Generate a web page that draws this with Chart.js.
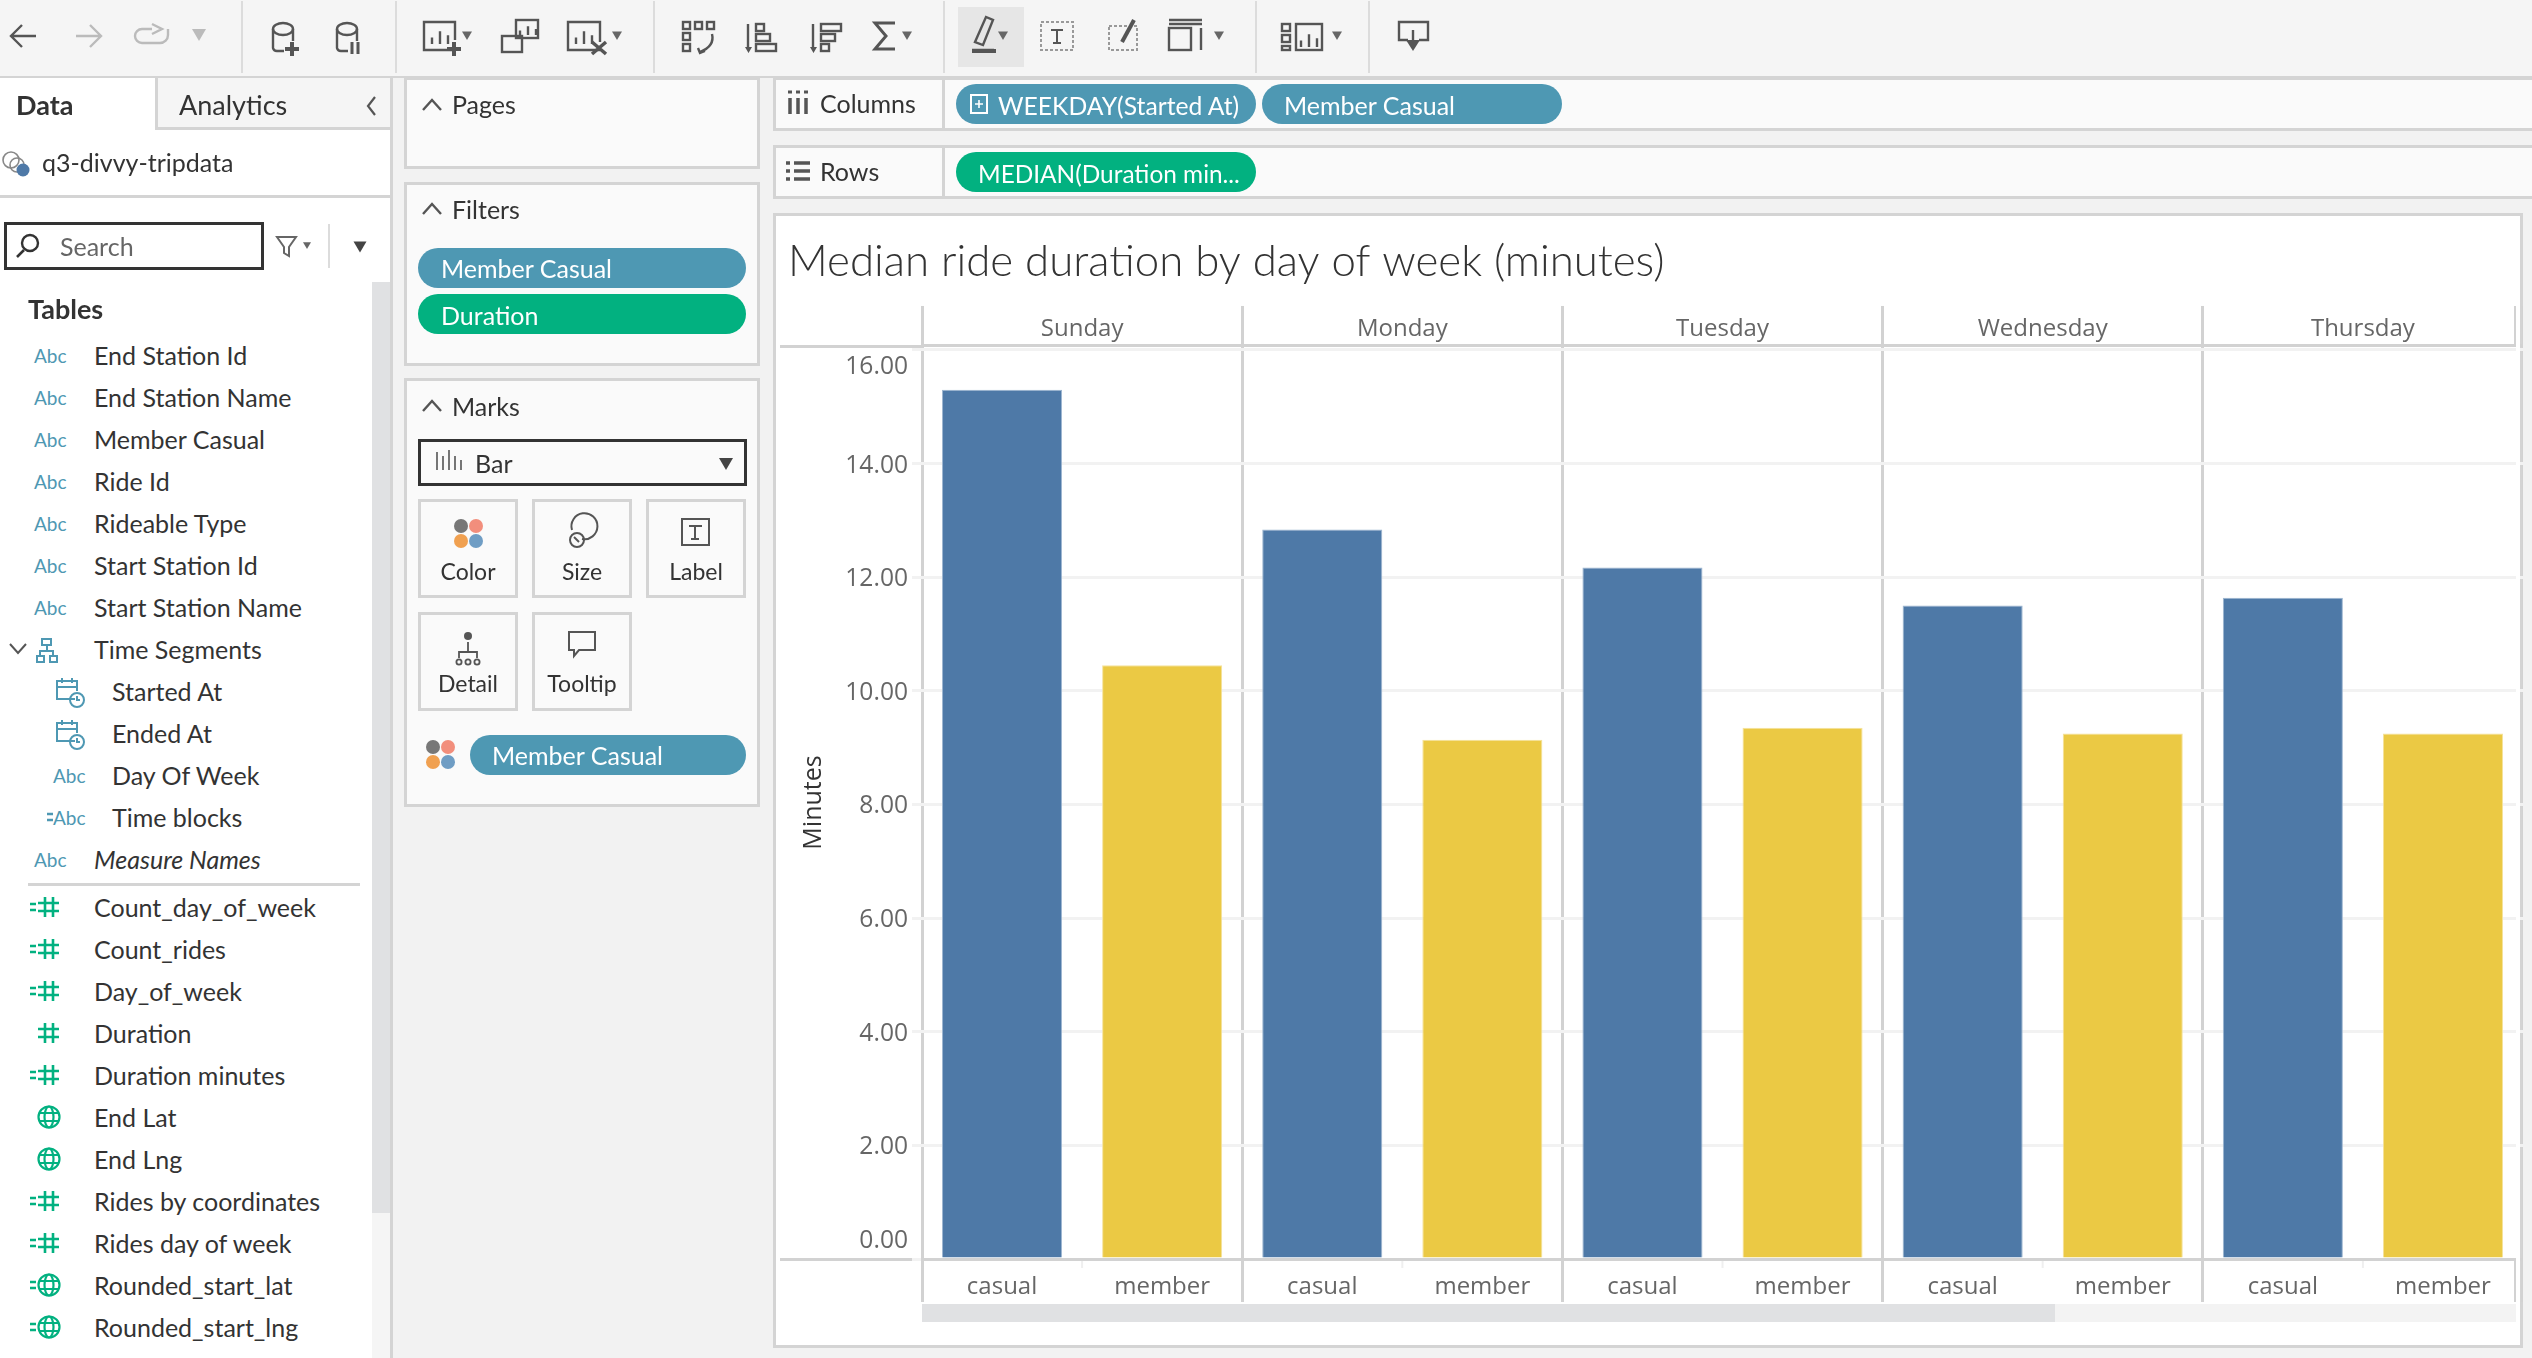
<!DOCTYPE html>
<html>
<head>
<meta charset="utf-8">
<title>Median ride duration by day of week</title>
<script src="https://cdn.jsdelivr.net/npm/chart.js@4"></script>
<style>
html, body { margin: 0; padding: 0; background: #f2f2f2; overflow: hidden; }
#page { position: relative; width: 2532px; height: 1358px; overflow: hidden; font-family: Lato, "Open Sans", sans-serif; color: #333; }
.box { position: absolute; box-sizing: border-box; }
.txt { position: absolute; transform: translateY(-50%); white-space: nowrap; font-size: 25px; }
.card { background: #fafafa; border: 3px solid #d4d4d4; }
.pill { border-radius: 20px; }
.btn { background: #fafafa; border: 3px solid #d4d4d4; }
#chart { position: absolute; left: 779px; top: 222px; }
#icons { position: absolute; left: 0; top: 0; }
</style>
</head>
<body>
<div id="page">
  <canvas id="chart" width="1744" height="1082"></canvas>
</div>
<script>
/** CHART DATA */
const weekdays = ["Sunday", "Monday", "Tuesday", "Wednesday", "Thursday"];
const riderTypes = ["casual", "member"];
const casualMinutes = [15.30, 12.84, 12.17, 11.50, 11.64];
const memberMinutes = [10.45, 9.14, 9.35, 9.25, 9.25];
const yTicks = [0, 2, 4, 6, 8, 10, 12, 14, 16];

const casualColor = "#4e79a7";
const memberColor = "#ebc944";
const ruleColor = "#d2d2d2";

/** SIDEBAR TEXT */
const dimensionFields = ["End Station Id", "End Station Name", "Member Casual", "Ride Id", "Rideable Type", "Start Station Id", "Start Station Name"];
const segmentFields = [["Started At", "cal"], ["Ended At", "cal"], ["Day Of Week", "abc"], ["Time blocks", "calc"]];
const measureFields = [["Count_day_of_week", "calcnum"], ["Count_rides", "calcnum"], ["Day_of_week", "calcnum"], ["Duration", "num"],
    ["Duration minutes", "calcnum"], ["End Lat", "geo"], ["End Lng", "geo"], ["Rides by coordinates", "calcnum"],
    ["Rides day of week", "calcnum"], ["Rounded_start_lat", "calcgeo"], ["Rounded_start_lng", "calcgeo"]];

const page = document.getElementById("page");

function box(x, y, w, h, css, cls) {
    const el = document.createElement("div");
    el.className = "box " + (cls || "");
    el.style.cssText = `left:${x}px;top:${y}px;width:${w}px;height:${h}px;${css || ""}`;
    page.insertBefore(el, document.getElementById("chart"));
    return el;
}

function text(x, y, str, css) {
    const el = document.createElement("div");
    el.className = "txt";
    el.style.cssText = `left:${x}px;top:${y}px;${css || ""}`;
    el.textContent = str;
    page.appendChild(el);
    return el;
}

/** WORKSPACE CHROME */
box(0, 0, 2532, 76, "background:#f5f5f5");
box(0, 76, 2532, 2, "background:#d4d4d4");
[241, 395, 653, 943, 1255, 1368].forEach(x => box(x, 1, 2, 72, "background:#dcdcdc"));
box(958, 7, 66, 60, "background:#e6e6e6");

box(0, 78, 390, 1280, "background:#fff");
box(155, 78, 235, 52, "background:#f5f5f5;border-left:3px solid #d4d4d4;border-bottom:3px solid #d4d4d4");
box(0, 195, 390, 3, "background:#d4d4d4");
box(4, 222, 260, 48, "border:3px solid #333;background:#fff");
box(328, 224, 2, 44, "background:#dcdcdc");
box(372, 282, 18, 931, "background:#e0e1e3");
box(372, 1213, 18, 145, "background:#f5f5f5");
box(390, 78, 3, 1280, "background:#d4d4d4");
box(28, 883, 332, 3, "background:#d4d4d4");

box(404, 77, 356, 92, "", "card");
box(404, 182, 356, 184, "", "card");
box(404, 378, 356, 429, "", "card");
box(418, 248, 328, 40, "background:#4e98b3", "pill");
box(418, 294, 328, 40, "background:#02b180", "pill");
box(418, 439, 329, 47, "border:3px solid #333;background:#fafafa");
[[418, 499], [532, 499], [646, 499], [418, 612], [532, 612]].forEach(p => box(p[0], p[1], 100, 99, "", "btn"));
box(470, 735, 276, 40, "background:#4e98b3", "pill");

box(773, 77, 1762, 54, "", "card");
box(773, 145, 1762, 54, "", "card");
box(942, 78, 3, 52, "background:#d4d4d4");
box(942, 146, 3, 52, "background:#d4d4d4");
box(956, 84, 300, 40, "background:#4e98b3", "pill");
box(1262, 84, 300, 40, "background:#4e98b3", "pill");
box(956, 152, 300, 40, "background:#02b180", "pill");

// view card, its rules left of the axis and the clipped right edge
box(773, 213, 1750, 1135, "background:#fff;border:3px solid #d4d4d4");
box(780, 345, 143, 3, "background:" + ruleColor);
box(780, 1258, 143, 3, "background:" + ruleColor);
box(922, 1304, 1133, 18, "background:#e0e1e3");
box(2055, 1304, 461, 18, "background:#f3f3f3");

/** ICONS */
const ic = (stroke, inner) => `<g fill="none" stroke="${stroke}" stroke-width="2.4">${inner}</g>`;
const tri = (x, y, s, c) => `<path d="M${x - s} ${y - s * 0.7}h${s * 2}L${x} ${y + s}z" fill="${c || "#666"}"/>`;
const chevUp = (x, y) => `<path d="M${x - 9} ${y + 5}L${x} ${y - 5}L${x + 9} ${y + 5}" fill="none" stroke="#555" stroke-width="2.4"/>`;
const cyl = (x) => `<ellipse cx="${x + 11}" cy="29" rx="10" ry="6"/><path d="M${x + 1} 29v19a4 4 0 0 0 4 3h7M${x + 21} 29v12"/>`;
const barsIn = (x, y, h) => `<path d="M${x} ${y}v-${h * 0.4}M${x + 8} ${y}v-${h * 0.8}M${x + 16} ${y}v-${h * 0.55}"/>`;

const DOT_COLORS = ["#777", "#f28e7c", "#f0a050", "#6f9dc4"];
function dots(x, y, gap, r) {
    return [[0, 0], [1, 0], [0, 1], [1, 1]].map((p, i) =>
        `<circle cx="${x + p[0] * gap}" cy="${y + p[1] * gap}" r="${r}" fill="${DOT_COLORS[i]}"/>`).join("");
}

function hashIcon(x, y, c) {
    return `<path d="M${x + 6} ${y - 10}v20M${x + 14} ${y - 10}v20M${x - 1} ${y - 4}h21M${x - 1} ${y + 4}h21" fill="none" stroke="${c}" stroke-width="2.6"/>`;
}
function globeIcon(x, y, c) {
    return `<g fill="none" stroke="${c}" stroke-width="2.2"><circle cx="${x + 10}" cy="${y}" r="10.5"/><ellipse cx="${x + 10}" cy="${y}" rx="4.5" ry="10.5"/><path d="M${x} ${y - 4}h20M${x} ${y + 4}h20"/></g>`;
}
function calcMark(x, y, c) {
    return `<path d="M${x} ${y - 3}h6M${x} ${y + 3}h6" stroke="${c}" stroke-width="2.6"/>`;
}
function calIcon(x, y) {
    return `<g fill="none" stroke="#4e98b3" stroke-width="2"><path d="M${x + 19} ${y + 8}h-18v-18h20v10M${x + 1} ${y - 4}h20M${x + 6} ${y - 13}v5M${x + 16} ${y - 13}v5"/><circle cx="${x + 21}" cy="${y + 9}" r="7"/><path d="M${x + 21} ${y + 5}v4h3"/></g>`;
}

let svg = "";
svg += ic("#555", "<path d='M36 36H11M22 25L11 36L22 47'/>");
svg += ic("#bbb", "<path d='M76 36H101M90 25L101 36L90 47'/><path d='M152 29h-10a7 7 0 0 0 0 14h18a8 8 0 0 0 8-8v-6M152 24l10 5-10 5'/>");
svg += tri(199, 34, 7, "#bbb");
svg += ic("#555", cyl(272) + cyl(336));
svg += `<path d="M292 42v14M285 49h14" stroke="#555" stroke-width="4"/><path d="M352 42v12M358 42v12" stroke="#555" stroke-width="3"/>`;
svg += ic("#555", "<path d='M455 50h-31V22h31v18'/>" + barsIn(432, 44, 16));
svg += `<path d="M454 42v14M447 49h14" stroke="#555" stroke-width="4"/>` + tri(467, 35, 5);
svg += ic("#555", "<rect x='502' y='36' width='20' height='16'/><rect x='516' y='20' width='22' height='18'/>" + barsIn(520, 35, 11));
svg += ic("#555", "<path d='M600 50h-32V22h32v20'/>" + barsIn(576, 44, 16));
svg += `<path d="M592 42l14 12M606 42l-14 12" stroke="#555" stroke-width="3.5"/>` + tri(617, 35, 5);
svg += ic("#555", "<rect x='683' y='22' width='7' height='7'/><rect x='695' y='22' width='7' height='7'/><rect x='707' y='22' width='7' height='7'/><rect x='683' y='33' width='7' height='7'/><rect x='683' y='44' width='7' height='7'/><path d='M712 34c2 8-2 14-12 18M698 48l2 5 5-2'/>");
svg += ic("#555", "<path d='M748 24v24'/><rect x='756' y='24' width='8' height='7'/><rect x='756' y='34' width='14' height='7'/><rect x='756' y='44' width='20' height='7'/>");
svg += ic("#555", "<path d='M813 24v24'/><rect x='821' y='24' width='20' height='7'/><rect x='821' y='34' width='14' height='7'/><rect x='821' y='44' width='8' height='7'/>");
svg += `<path d="M745 47h7l-3.5 6zM810 47h7l-3.5 6z" fill="#555"/>`;
svg += `<path d="M895 23h-20l11 13-11 13h20" fill="none" stroke="#555" stroke-width="3"/>` + tri(907, 35, 5);
svg += `<path d="M975 42l11-25 7 3-10 25zM972 50h22" fill="none" stroke="#555" stroke-width="2.4"/><rect x="972" y="49" width="24" height="4" fill="#555"/>` + tri(1003, 35, 5);
svg += `<rect x="1041" y="22" width="32" height="28" fill="none" stroke="#999" stroke-width="2" stroke-dasharray="3 2"/>`;
svg += `<path d="M1051 30h12M1057 30v13M1053 43h8" fill="none" stroke="#555" stroke-width="2"/>`;
svg += `<rect x="1109" y="26" width="28" height="24" fill="none" stroke="#999" stroke-width="2" stroke-dasharray="3 2"/><path d="M1122 42l12-22" stroke="#555" stroke-width="4"/>`;
svg += ic("#555", "<path d='M1169 20h33M1169 24h33'/><rect x='1169' y='28' width='22' height='22'/><path d='M1201 28v22'/>") + tri(1219, 35, 5);
svg += ic("#555", "<rect x='1282' y='24' width='8' height='7'/><rect x='1282' y='35' width='8' height='7'/><rect x='1282' y='46' width='8' height='4'/><rect x='1296' y='24' width='26' height='26'/>" + barsIn(1301, 47, 16));
svg += tri(1337, 35, 5);
svg += `<path d="M1408 40h-9V22h29v18h-9" fill="none" stroke="#555" stroke-width="2.4"/><path d="M1413 30v14" stroke="#555" stroke-width="2.4"/><path d="M1406 40h14l-7 11z" fill="#555"/>`;

// panel chevrons and search row
svg += `<path d="M375 97l-7 9 7 9" fill="none" stroke="#555" stroke-width="2.2"/>`;
svg += chevUp(432, 105) + chevUp(432, 209) + chevUp(432, 406);
svg += `<circle cx="30" cy="243" r="8" fill="none" stroke="#333" stroke-width="2.4"/><path d="M24 250l-7 7" stroke="#333" stroke-width="2.6"/>`;
svg += `<path d="M277 237h19l-7 10v9l-5 -3v-6z" fill="none" stroke="#666" stroke-width="2"/>` + tri(307, 245, 4) + tri(360, 246, 6.5, "#444");
svg += `<circle cx="11" cy="160" r="8" fill="none" stroke="#888" stroke-width="1.6"/><circle cx="17" cy="165" r="7" fill="none" stroke="#888" stroke-width="1.6"/><circle cx="23" cy="170" r="6.5" fill="#4e79a7"/>`;

// marks card
svg += `<path d="M437 452v18M443 456v14M449 450v20M455 456v14M461 460v10" stroke="#555" stroke-width="1.6"/>` + tri(726, 463, 7, "#444");
svg += dots(461, 526, 15, 7) + dots(433, 747, 15, 7);
svg += `<g fill="none" stroke="#555" stroke-width="2"><path d="M572 530a13 13 0 1 1 10 9"/><circle cx="577" cy="540" r="7"/><path d="M574 537l5 5"/></g>`;
svg += `<rect x="682" y="519" width="27" height="26" fill="none" stroke="#555" stroke-width="2"/><path d="M689 526h13M695 526v13M691 539h8" fill="none" stroke="#555" stroke-width="2"/>`;
svg += `<g fill="none" stroke="#555" stroke-width="1.8"><path d="M468 642v10M459 658v-6h18v6"/><circle cx="459" cy="662" r="2.6"/><circle cx="468" cy="662" r="2.6"/><circle cx="477" cy="662" r="2.6"/></g><circle cx="468" cy="636" r="4" fill="#555"/>`;
svg += `<path d="M569 632h26v18h-16l-5 6v-6h-5z" fill="none" stroke="#555" stroke-width="2"/>`;

// pill and shelf glyphs
svg += `<rect x="971" y="95" width="16" height="18" fill="none" stroke="#fff" stroke-width="2"/><path d="M975 104h8M979 100v8" stroke="#fff" stroke-width="1.6"/>`;
svg += `<path d="M790 98v16M798 98v16M806 98v16" stroke="#555" stroke-width="3.5"/><path d="M788 92h4M796 92h4M804 92h4" stroke="#555" stroke-width="3"/>`;
svg += `<path d="M786 163h4M794 163h16M786 171h4M794 171h16M786 179h4M794 179h16" stroke="#555" stroke-width="3.5"/>`;

/** FIELD LIST */
let rowY = 355;
dimensionFields.forEach(name => {
    text(34, rowY, "Abc", "font-size:19px;color:#4e98b3");
    text(94, rowY, name);
    rowY += 42;
});
svg += `<path d="M10 644l8 9 8-9" fill="none" stroke="#555" stroke-width="2"/>`;
svg += `<g fill="none" stroke="#4e98b3" stroke-width="2"><rect x="42" y="639" width="9" height="6"/><rect x="37" y="656" width="7" height="6"/><rect x="50" y="656" width="7" height="6"/><path d="M47 645v6M40 656v-5h13v5"/></g>`;
text(94, rowY, "Time Segments");
rowY += 42;
segmentFields.forEach(f => {
    if (f[1] === "cal") svg += calIcon(56, rowY);
    else {
        if (f[1] === "calc") svg += calcMark(47, rowY, "#4e98b3");
        text(53, rowY, "Abc", "font-size:19px;color:#4e98b3");
    }
    text(112, rowY, f[0]);
    rowY += 42;
});
text(34, rowY, "Abc", "font-size:19px;color:#4e98b3");
text(94, rowY, "Measure Names", "font-style:italic");
rowY = 907;
const GREEN = "#02b180";
measureFields.forEach(f => {
    if (f[1].indexOf("calc") === 0) svg += calcMark(30, rowY, GREEN);
    if (f[1].indexOf("geo") >= 0) svg += globeIcon(39, rowY, GREEN);
    else svg += hashIcon(39, rowY, GREEN);
    text(94, rowY, f[0]);
    rowY += 42;
});

const iconLayer = document.createElementNS("http://www.w3.org/2000/svg", "svg");
iconLayer.setAttribute("id", "icons");
iconLayer.setAttribute("width", "2532");
iconLayer.setAttribute("height", "1358");
iconLayer.innerHTML = svg;
page.appendChild(iconLayer);

/** PANEL TEXT */
const centred = "transform:translate(-50%,-50%);font-size:23px";
text(16, 104, "Data", "font-weight:700;font-size:27px");
text(179, 104, "Analytics", "font-size:27px");
text(42, 162, "q3-divvy-tripdata");
text(60, 246, "Search", "color:#666");
text(28, 308, "Tables", "font-weight:700;font-size:27px");
text(452, 103.5, "Pages");
text(452, 208.5, "Filters");
text(452, 406, "Marks");
text(441, 268, "Member Casual", "color:#fff");
text(441, 314.5, "Duration", "color:#fff");
text(475, 463, "Bar");
text(468, 571, "Color", centred);
text(582, 571, "Size", centred);
text(696, 571, "Label", centred);
text(468, 683, "Detail", centred);
text(582, 683, "Tooltip", centred);
text(492, 755, "Member Casual", "color:#fff");
text(820, 103, "Columns");
text(820, 170.5, "Rows");
text(998, 104.5, "WEEKDAY(Started At)", "color:#fff;font-size:24.7px");
text(1284, 104.5, "Member Casual", "color:#fff");
text(978, 172.5, "MEDIAN(Duration min...", "color:#fff;font-size:24.4px");

/** CHART */
const barLabels = weekdays.flatMap(() => riderTypes);
const barValues = casualMinutes.flatMap((v, i) => [v, memberMinutes[i]]);
const barColors = barLabels.map(r => r === "casual" ? casualColor : memberColor);

const axisFont = { family: "'Open Sans', sans-serif", size: 24 };

// Tableau keeps the first and last value labels inside the pane
const edgeLabels = {
    id: "edgeLabels",
    beforeDraw(chart) {
        const items = chart.scales.y.getLabelItems();
        items.forEach(item => {
            if (item.moved) return;
            item.moved = true;
            item.options.translation[1] += 2;
            if (item.label === "16.00") item.options.translation[1] += 15;
            if (item.label === "0.00") item.options.translation[1] -= 20;
        });
    }
};

// faint stub between casual and member below the baseline
const memberStubs = {
    id: "memberStubs",
    afterDraw(chart) {
        const x = chart.scales.x;
        const c = chart.ctx;
        c.save();
        c.strokeStyle = "#efefef";
        c.lineWidth = 2;
        weekdays.forEach((d, i) => {
            const px = (x.getPixelForTick(i * 2) + x.getPixelForTick(i * 2 + 1)) / 2;
            c.beginPath();
            c.moveTo(px, chart.chartArea.bottom + 2);
            c.lineTo(px, chart.chartArea.bottom + 9);
            c.stroke();
        });
        c.restore();
    }
};

new Chart(document.getElementById("chart"), {
    type: "bar",
    data: {
        labels: barLabels,
        datasets: [{
            label: "Minutes",
            data: barValues,
            backgroundColor: barColors,
            borderColor: barLabels.map(r => r === "casual" ? "#9db6d0" : "#f5e29a"),
            borderWidth: { top: 1, left: 1, right: 1, bottom: 0 },
            barPercentage: 0.75,
            categoryPercentage: 1
        }]
    },
    plugins: [edgeLabels, memberStubs],
    options: {
        responsive: false,
        animation: false,
        devicePixelRatio: 1,
        layout: { padding: { left: 9, right: 0, top: 0, bottom: 0 } },
        plugins: {
            legend: { display: false },
            tooltip: { enabled: false },
            title: {
                display: true,
                text: "Median ride duration by day of week (minutes)",
                align: "start",
                color: "#333",
                font: { family: "Lato, sans-serif", size: 43.8, weight: "300", lineHeight: 1.2 },
                padding: { top: 14, bottom: 11.4 }
            }
        },
        scales: {
            x: {
                type: "category",
                position: "bottom",
                afterFit(scale) { scale.height = 45; },
                border: { color: ruleColor, width: 3 },
                grid: {
                    offset: true,
                    drawOnChartArea: false,
                    tickLength: 43,
                    lineWidth: 3,
                    tickColor: ctx => (ctx.index === undefined || ctx.index % 2 === 0) ? ruleColor : "rgba(0,0,0,0)"
                },
                ticks: { color: "#666", font: axisFont, padding: -29, autoSkip: false, maxRotation: 0 }
            },
            weekdayAxis: {
                type: "category",
                axis: "x",
                position: "top",
                labels: weekdays,
                offset: true,
                afterFit(scale) { scale.height = 46; },
                border: { color: ruleColor, width: 3 },
                grid: { offset: true, color: ruleColor, lineWidth: 3, tickLength: 40, tickColor: ruleColor },
                ticks: { color: "#666", font: axisFont, padding: -38, autoSkip: false, maxRotation: 0 }
            },
            y: {
                min: 0,
                max: 16.07,
                afterFit(scale) { scale.width = 134; },
                afterBuildTicks(scale) { scale.ticks = yTicks.map(v => ({ value: v })); },
                title: {
                    display: true,
                    text: "Minutes",
                    color: "#333",
                    font: { family: "'Open Sans', sans-serif", size: 25 },
                    padding: { top: 11, bottom: 0 }
                },
                border: { display: false },
                grid: { color: "#f2f2f2", lineWidth: 3, tickLength: 10, tickColor: "#f2f2f2" },
                ticks: { color: "#666", font: { family: "'Open Sans', sans-serif", size: 24.6 }, padding: 4, callback: v => Number(v).toFixed(2) }
            }
        }
    }
});

// clipped right edge of the view, over the last pane
const edge = document.createElement("div");
edge.className = "box";
edge.style.cssText = "left:2516px;top:300px;width:4px;height:1004px;background:#fff";
page.appendChild(edge);
[[306, 40], [1259, 43]].forEach(p => {
    const rule = document.createElement("div");
    rule.className = "box";
    rule.style.cssText = `left:2514px;top:${p[0]}px;width:2px;height:${p[1]}px;background:${ruleColor}`;
    page.appendChild(rule);
});
</script>
</body>
</html>
